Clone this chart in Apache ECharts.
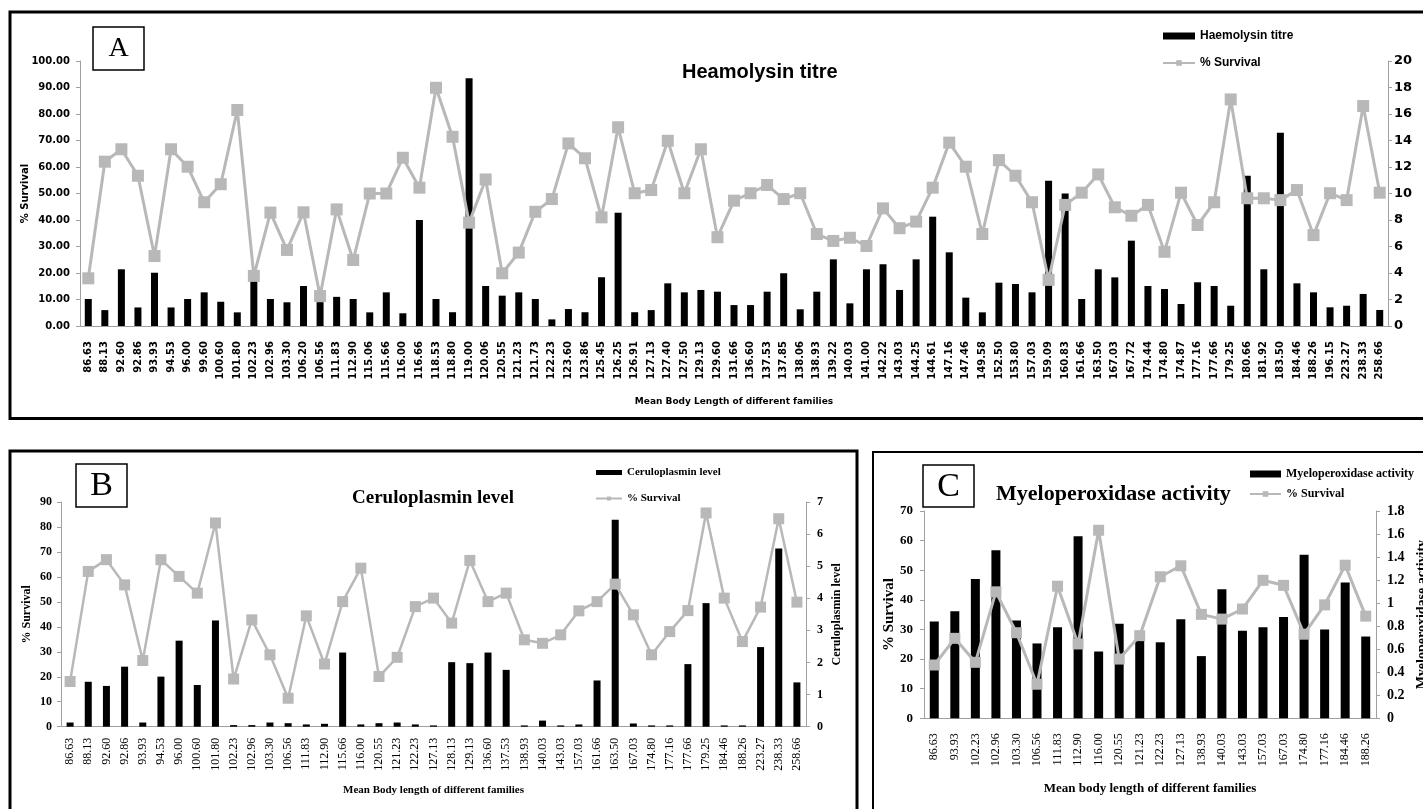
<!DOCTYPE html>
<html><head><meta charset="utf-8">
<script src="https://cdn.jsdelivr.net/npm/echarts@6/dist/echarts.min.js"></script>
<style>html,body{margin:0;padding:0;background:#fff;}#c{width:1423px;height:809px;}</style>
</head><body><div id="c"></div>
<script>
const catsA = ['86.63','88.13','92.60','92.86','93.93','94.53','96.00','99.60','100.60','101.80',
'102.23','102.96','103.30','106.20','106.56','111.83','112.90','115.06','115.66','116.00',
'116.66','118.53','118.80','119.00','120.06','120.55','121.23','121.73','122.23','123.60',
'123.86','125.45','126.25','126.91','127.13','127.40','127.50','129.13','129.60','131.66',
'136.60','137.53','137.85','138.06','138.93','139.22','140.03','141.00','142.22','143.03',
'144.25','144.61','147.16','147.46','149.58','152.50','153.80','157.03','159.09','160.83',
'161.66','163.50','167.03','167.72','174.44','174.80','174.87','177.16','177.66','179.25',
'180.66','181.92','183.50','184.46','188.26','196.15','223.27','238.33','258.66'];
const survA = [18.0,62.0,66.7,56.7,26.4,66.7,60.1,46.7,53.5,81.5,
18.9,42.8,28.7,42.9,11.3,44.0,24.9,50.0,50.0,63.5,
52.2,89.9,71.4,39.0,55.3,19.9,27.7,43.1,47.9,68.9,
63.3,41.0,75.0,50.1,51.3,69.9,50.1,66.7,33.5,47.3,
50.1,53.2,47.9,50.1,34.7,32.1,33.3,30.2,44.4,36.9,
39.4,52.2,69.2,60.1,34.7,62.6,56.7,46.7,17.4,45.7,
50.3,57.2,44.8,41.6,45.7,28.0,50.3,38.1,46.7,85.5,
48.2,48.2,47.5,51.3,34.3,50.1,47.5,83.0,50.3];
const haemA = [2.04,1.2,4.28,1.4,4.02,1.4,2.04,2.54,1.83,1.03,
3.4,2.04,1.79,3.02,1.8,2.2,2.04,1.03,2.54,0.96,
8.0,2.04,1.04,18.7,3.02,2.29,2.54,2.04,0.5,1.28,
1.04,3.68,8.55,1.04,1.2,3.22,2.54,2.72,2.59,1.58,
1.58,2.59,3.98,1.26,2.59,5.03,1.71,4.28,4.66,2.72,
5.03,8.25,5.56,2.14,1.03,3.27,3.17,2.54,10.97,10.0,
2.04,4.28,3.67,6.44,3.02,2.79,1.66,3.3,3.02,1.53,
11.34,4.28,14.59,3.22,2.54,1.41,1.53,2.42,1.21];

const catsB = ['86.63','88.13','92.60','92.86','93.93','94.53','96.00','100.60','101.80','102.23',
'102.96','103.30','106.56','111.83','112.90','115.66','116.00','120.55','121.23','122.23',
'127.13','128.13','129.13','136.60','137.53','138.93','140.03','143.03','157.03','161.66',
'163.50','167.03','174.80','177.16','177.66','179.25','184.46','188.26','223.27','238.33',
'258.66'];
const survB = [18.1,62.2,66.9,56.8,26.5,66.9,60.2,53.5,81.6,19.1,
42.8,28.8,11.4,44.4,25.1,50.1,63.5,20.1,27.8,48.1,
51.5,41.5,66.6,50.1,53.5,34.8,33.4,36.8,46.4,50.1,
57.1,44.8,28.8,38.1,46.5,85.6,51.5,34.1,47.9,83.3,
49.9];
const cerB = [0.13,1.40,1.27,1.87,0.13,1.56,2.68,1.30,3.31,0.05,
0.05,0.13,0.11,0.07,0.09,2.31,0.07,0.11,0.13,0.07,
0.04,2.01,1.98,2.31,1.77,0.04,0.19,0.04,0.07,1.44,
6.45,0.10,0.04,0.04,1.95,3.85,0.04,0.04,2.48,5.55,
1.38];

const catsC = ['86.63','93.93','102.23','102.96','103.30','106.56','111.83','112.90','116.00','120.55','121.23',
'122.23','127.13','138.93','140.03','143.03','157.03','167.03','174.80','177.16','184.46','188.26'];
const survC = [18.0,27.0,18.9,42.7,28.9,11.5,44.6,25.1,63.5,20.0,27.9,47.8,51.5,35.1,33.5,36.9,46.6,44.9,28.4,38.3,51.7,34.5];
const mpoC = [0.84,0.93,1.21,1.46,0.85,0.65,0.79,1.58,0.58,0.82,0.68,0.66,0.86,0.54,1.12,0.76,0.79,0.88,1.42,0.77,1.18,0.71];

const SANS = 'DejaVu Sans';
const ARIAL = 'Liberation Sans';
const SERIF = 'Liberation Serif';
const AX = '#a0a0a0';
const GREY = '#b8b8b8';

function ts(fam, size, weight) { return {fontFamily: fam, fontSize: size, fontWeight: weight || 'bold', color: '#000'}; }
function xAx(grid, data, fam, size, weight, margin, name, nameSize, nameGap) {
  return {gridIndex: grid, type: 'category', data: data, boundaryGap: true,
    axisLine: {lineStyle: {color: AX, width: 1}}, axisTick: {show: false},
    axisLabel: Object.assign({rotate: 90, interval: 0, margin: margin}, ts(fam, size, weight)),
    name: name, nameLocation: 'middle', nameGap: nameGap, nameMoveOverlap: false, nameTextStyle: ts(fam, nameSize, 'bold')};
}
function yAx(grid, pos, min, max, interval, fam, size, margin, fmt, name, nameSize, nameGap) {
  const o = {gridIndex: grid, type: 'value', position: pos, min: min, max: max, interval: interval,
    axisLine: {show: true, lineStyle: {color: AX, width: 1}},
    axisTick: {show: true, length: 4, inside: false, lineStyle: {color: AX}},
    splitLine: {show: false},
    axisLabel: Object.assign({margin: margin, formatter: fmt}, ts(fam, size, 'bold'))};
  if (name) { o.name = name; o.nameLocation = 'middle'; o.nameGap = nameGap; o.nameMoveOverlap = false; o.nameTextStyle = ts(fam, nameSize, 'bold'); }
  return o;
}
function barS(name, xi, yi, data, w) {
  return {name: name, type: 'bar', xAxisIndex: xi, yAxisIndex: yi, data: data, barWidth: w,
    itemStyle: {color: '#000'}, z: 2};
}
function lineS(xi, yi, data, sym, lw) {
  return {name: '% Survival', type: 'line', xAxisIndex: xi, yAxisIndex: yi, data: data,
    symbol: 'rect', symbolSize: sym, showSymbol: true,
    lineStyle: {color: GREY, width: lw}, itemStyle: {color: GREY}, z: 3};
}

const chart = echarts.init(document.getElementById('c'), null, {renderer: 'canvas'});
chart.setOption({
  animation: false,
  backgroundColor: '#fff',
  grid: [
    {left: 80, right: 1423 - 1388, top: 61, height: 265, outerBoundsMode: 'none'},
    {left: 61, right: 1423 - 806, top: 502, height: 224.7, outerBoundsMode: 'none'},
    {left: 924, right: 1423 - 1376, top: 511, height: 207.3, outerBoundsMode: 'none'}
  ],
  title: [
    {text: 'Heamolysin titre', left: 682, top: 62, padding: 0, textStyle: ts(ARIAL, 20, 'bold')},
    {text: 'Ceruloplasmin level', left: 352, top: 489, padding: 0, textStyle: ts(SERIF, 19, 'bold')},
    {text: 'Myeloperoxidase activity', left: 996, top: 483, padding: 0, textStyle: ts(SERIF, 22, 'bold')}
  ],
  legend: [
    {left: 1162, top: 30, orient: 'vertical', padding: 0, itemWidth: 32, itemHeight: 7, itemGap: 15,
      data: [{name: 'Haemolysin titre', icon: 'rect'}, {name: '% Survival'}], textStyle: ts(ARIAL, 12, 'bold')},
    {left: 595, top: 467, orient: 'vertical', padding: 0, itemWidth: 26, itemHeight: 5, itemGap: 15,
      data: [{name: 'Ceruloplasmin level', icon: 'rect'}, {name: '% Survival'}], textStyle: ts(SERIF, 11, 'bold')},
    {left: 1249, top: 468, orient: 'vertical', padding: 0, itemWidth: 31, itemHeight: 7, itemGap: 8,
      data: [{name: 'Myeloperoxidase activity', icon: 'rect'}, {name: '% Survival'}], textStyle: ts(SERIF, 12, 'bold')}
  ],
  xAxis: [
    xAx(0, catsA, SANS, 10, 'bold', 15, 'Mean Body Length of different families', 9, 71),
    xAx(1, catsB, SERIF, 12, 'normal', 11, 'Mean Body length of different families', 11, 58),
    xAx(2, catsC, SERIF, 12, 'normal', 15, 'Mean body length of different families', 13, 64)
  ],
  yAxis: [
    yAx(0, 'left', 0, 100, 10, SANS, 10, 10, v => v.toFixed(2), '% Survival', 10, 50),
    yAx(0, 'right', 0, 20, 2, SANS, 13, 6, v => String(v)),
    yAx(1, 'left', 0, 90, 10, SERIF, 12, 9, v => String(v), '% Survival', 12, 28),
    yAx(1, 'right', 0, 7, 1, SERIF, 12, 11, v => String(v), 'Ceruloplasmin level', 12, 25),
    yAx(2, 'left', 0, 70, 10, SERIF, 13, 11, v => String(v), '% Survival', 15, 27),
    yAx(2, 'right', 0, 1.8, 0.2, SERIF, 14, 11, v => String(+v.toFixed(1)), 'Myeloperoxidase activity', 14, 39)
  ],
  series: [
    barS('Haemolysin titre', 0, 1, haemA, 7),
    lineS(0, 0, survA, 12, 3),
    barS('Ceruloplasmin level', 1, 3, cerB, 7),
    lineS(1, 2, survB, 11, 2.5),
    barS('Myeloperoxidase activity', 2, 5, mpoC, 9),
    lineS(2, 4, survC, 11, 3)
  ],
  graphic: [
    {type: 'rect', shape: {x: 10, y: 12, width: 1440, height: 406.5}, style: {fill: 'none', stroke: '#000', lineWidth: 3}, silent: true},
    {type: 'rect', shape: {x: 10, y: 451, width: 847, height: 380}, style: {fill: 'none', stroke: '#000', lineWidth: 3}, silent: true},
    {type: 'rect', shape: {x: 873, y: 452, width: 600, height: 380}, style: {fill: 'none', stroke: '#000', lineWidth: 2}, silent: true},
    {type: 'rect', shape: {x: 93, y: 27, width: 51, height: 43}, style: {fill: '#fff', stroke: '#000', lineWidth: 1.5}, z: 10},
    {type: 'text', x: 118.5, y: 49, style: {text: 'A', fontFamily: SERIF, fontSize: 28, fill: '#000', align: 'center', verticalAlign: 'middle'}, z: 11},
    {type: 'rect', shape: {x: 76, y: 464, width: 51, height: 43}, style: {fill: '#fff', stroke: '#000', lineWidth: 1.5}, z: 10},
    {type: 'text', x: 101.5, y: 486, style: {text: 'B', fontFamily: SERIF, fontSize: 34, fill: '#000', align: 'center', verticalAlign: 'middle'}, z: 11},
    {type: 'rect', shape: {x: 923, y: 465, width: 51, height: 42}, style: {fill: '#fff', stroke: '#000', lineWidth: 1.5}, z: 10},
    {type: 'text', x: 948.5, y: 487, style: {text: 'C', fontFamily: SERIF, fontSize: 34, fill: '#000', align: 'center', verticalAlign: 'middle'}, z: 11}
  ]
});
</script>
</body></html>
